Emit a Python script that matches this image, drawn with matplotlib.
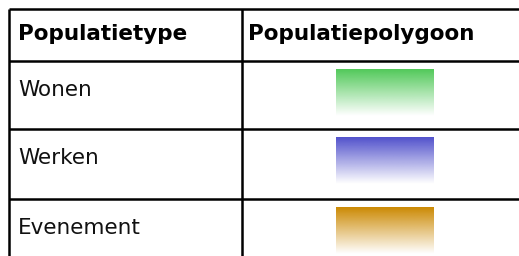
import matplotlib.pyplot as plt
import matplotlib.colors as mcolors
import numpy as np

headers = ["Populatietype", "Populatiepolygoon"]
types = ["Wonen", "Werken", "Evenement"]
colors = ["#52c95a", "#5252cc", "#cc8a04"]

# table layout in pixels
row_lines = [9, 61, 129, 199]
left, divider, right = 9, 242, 519

fig = plt.figure(figsize=(5.19, 2.56), dpi=100)
ax = fig.add_axes([0, 0, 1, 1])
ax.set_xlim(0, 519)
ax.set_ylim(256, 0)
ax.axis("off")

for y in row_lines:
    ax.plot([left, right], [y, y], color="black", lw=1.8, solid_capstyle="butt")
for x in [left, divider]:
    ax.plot([x, x], [row_lines[0], 256], color="black", lw=1.8, solid_capstyle="butt")

ax.text(18, 40, headers[0], fontsize=15.5, fontweight="bold", va="baseline", ha="left")
ax.text(248, 40, headers[1], fontsize=15.5, fontweight="bold", va="baseline", ha="left")

for i, (name, c) in enumerate(zip(types, colors)):
    top = row_lines[i + 1] + 1
    ax.text(18, top + 34, name, fontsize=15.5, va="baseline", ha="left", color="#111111")
    rgb = mcolors.to_rgb(c)
    grad = np.zeros((64, 1, 4))
    grad[:, 0, :3] = rgb
    grad[:, 0, 3] = np.linspace(1, 0, 64)
    sy = top + 7
    ax.imshow(grad, extent=(336, 434, sy + 47, sy), aspect="auto",
              interpolation="bilinear", origin="upper")

ax.set_xlim(0, 519)
ax.set_ylim(256, 0)
fig.savefig("out.png", dpi=100)
